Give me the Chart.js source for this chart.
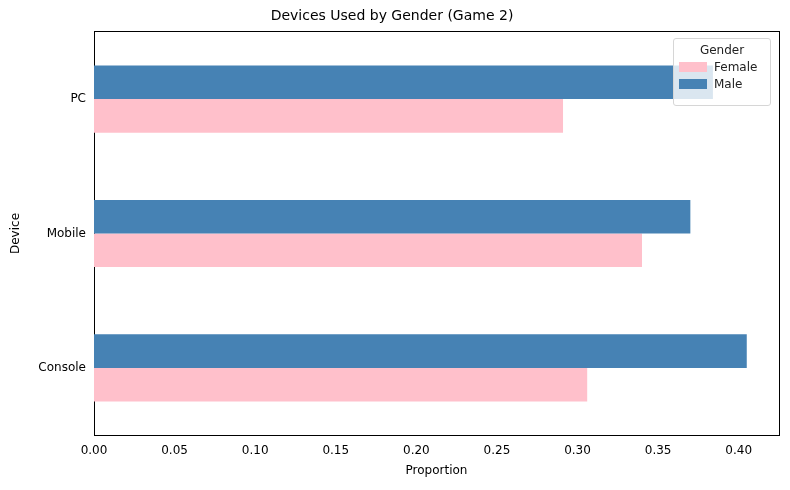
<!DOCTYPE html>
<html lang="en">
  <head>
    <meta charset="UTF-8" />
    <title>Devices Used by Gender (Game 2)</title>
    <script src="https://cdn.jsdelivr.net/npm/chart.js"></script>
    <style>
      body { margin: 0; background: #fff; font-family: "DejaVu Sans", sans-serif; }
      #wrap { position: relative; width: 790px; height: 490px; }
      #legend {
        position: absolute; left: 673px; top: 38px; width: 98px; height: 68px;
        border: 1px solid #d6d6d6; border-radius: 3px; background: rgba(255,255,255,0.8);
        font-size: 12px; color: #222; box-sizing: border-box;
      }
      #legend .t { text-align: center; margin-top: 4px; }
      #legend .r { display: flex; align-items: center; margin: 3px 0 0 5px; }
      #legend .s { width: 28px; height: 10px; margin-right: 7px; }
    </style>
  </head>
  <body>
    <div id="wrap">
      <canvas id="chart" width="790" height="490"></canvas>
      <div id="legend"></div>
    </div>
    <script>
      const devices = ["PC", "Mobile", "Console"];
      const femaleValues = [0.291, 0.340, 0.306];
      const maleValues = [0.384, 0.370, 0.405];
      const xTicks = [0, 0.05, 0.1, 0.15, 0.2, 0.25, 0.3, 0.35, 0.4];

      const colors = { Female: "#ffc0cb", Male: "#4682b4" };

      document.getElementById("legend").innerHTML =
        '<div class="t">Gender</div>' +
        ["Female", "Male"]
          .map((g) => `<div class="r"><span class="s" style="background:${colors[g]}"></span>${g}</div>`)
          .join("");

      Chart.defaults.font.family = "DejaVu Sans";
      Chart.defaults.font.size = 12;
      Chart.defaults.color = "#222";

      new Chart(document.getElementById("chart"), {
        type: "bar",
        data: {
          labels: devices,
          datasets: [
            { label: "Male", data: maleValues, backgroundColor: colors.Male },
            { label: "Female", data: femaleValues, backgroundColor: colors.Female },
          ],
        },
        options: {
          indexAxis: "y",
          responsive: false,
          animation: false,
          categoryPercentage: 0.5,
          barPercentage: 1,
          layout: { padding: { left: 5, right: 11, top: 0, bottom: 8 } },
          plugins: {
            legend: { display: false },
            tooltip: { enabled: false },
            title: {
              display: true,
              text: "Devices Used by Gender (Game 2)",
              font: { size: 14, weight: "normal" },
              color: "#000",
              padding: { top: 8, bottom: 7 },
            },
          },
          scales: {
            x: {
              min: 0,
              max: 0.425,
              afterBuildTicks: (axis) => { axis.ticks = xTicks.map((v) => ({ value: v })); },
              ticks: { callback: (v) => v.toFixed(2), color: "#000", padding: 4 },
              grid: { display: false, drawTicks: true, tickColor: "#000", tickLength: 4 },
              border: { color: "#000" },
              title: { display: true, text: "Proportion", color: "#000", padding: { top: 2 } },
            },
            y: {
              ticks: { color: "#000", padding: 4 },
              grid: { display: false, tickColor: "#000", tickLength: 4 },
              border: { color: "#000" },
              title: { display: true, text: "Device", color: "#000" },
              afterFit: (axis) => { axis.width = 89; },
            },
            x2: {
              position: "top", display: true, ticks: { display: false },
              grid: { display: false, drawTicks: false }, border: { color: "#000" },
            },
            y2: {
              position: "right", display: true, ticks: { display: false },
              grid: { display: false, drawTicks: false }, border: { color: "#000" },
            },
          },
        },
      });
    </script>
  </body>
</html>
